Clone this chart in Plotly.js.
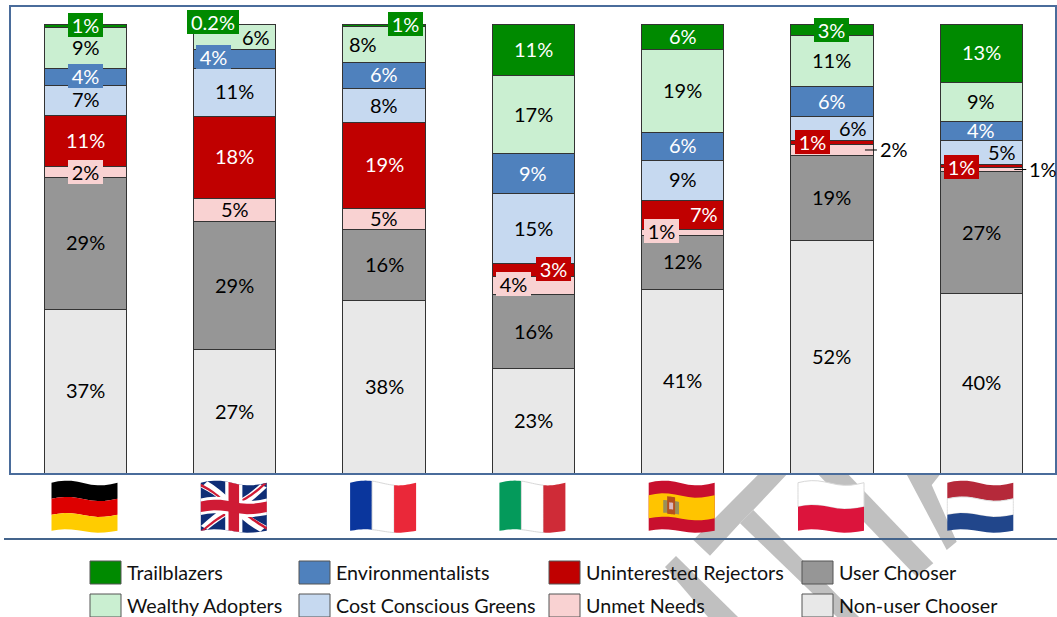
<!DOCTYPE html>
<html>
<head>
<meta charset="utf-8">
<script src="https://cdn.plot.ly/plotly-3.0.1.min.js"></script>
<style>html,body{margin:0;padding:0;background:#fff;overflow:hidden}</style>
</head>
<body>
<div id="chart" style="width:1057px;height:617px"></div>
<script>
// ---------- data (percent of population, top of the stack first in the reference) ----------
const countries = ["Germany","United Kingdom","France","Italy","Spain","Poland","Netherlands"];
const nonUserChooser       = [36.5, 27.4, 38.5, 23.2, 40.8, 51.8, 40.0];
const userChooser          = [29.4, 28.7, 15.8, 16.6, 12.2, 19.0, 27.1];
const unmetNeeds           = [ 2.4,  5.1,  4.7,  4.0,  1.2,  2.3,  1.0];
const uninterestedRejectors= [11.4, 18.3, 19.0,  2.9,  6.6,  0.9,  0.7];
const costConsciousGreens  = [ 6.6, 10.7,  7.7, 15.5,  8.9,  5.5,  5.3];
const environmentalists    = [ 3.8,  4.2,  5.7,  8.9,  6.1,  6.5,  4.3];
const wealthyAdopters      = [ 9.2,  5.4,  8.0, 17.4, 18.5, 11.4,  8.6];
const trailblazers         = [ 0.7,  0.2,  0.6, 11.5,  5.7,  2.6, 13.0];

const lblNon   = ["37%","27%","38%","23%","41%","52%","40%"];
const lblUser  = ["29%","29%","16%","16%","12%","19%","27%"];
const lblUnmet = ["2%","5%","5%","4%","1%","2%","1%"];
const lblRej   = ["11%","18%","19%","3%","7%","1%","1%"];
const lblCost  = ["7%","11%","8%","15%","9%","6%","5%"];
const lblEnv   = ["4%","4%","6%","9%","6%","6%","4%"];
const lblWealth= ["9%","6%","8%","17%","19%","11%","9%"];
const lblTrail = ["1%","0.2%","1%","11%","6%","3%","13%"];

// stack order bottom to top
const series = [
  {name:"Non-user Chooser",      v:nonUserChooser,        l:lblNon,    c:"#E8E8E8", t:"#000000"},
  {name:"User Chooser",          v:userChooser,           l:lblUser,   c:"#969696", t:"#000000"},
  {name:"Unmet Needs",           v:unmetNeeds,            l:lblUnmet,  c:"#F9D2D2", t:"#000000"},
  {name:"Uninterested Rejectors",v:uninterestedRejectors, l:lblRej,    c:"#C00000", t:"#FFFFFF"},
  {name:"Cost Conscious Greens", v:costConsciousGreens,   l:lblCost,   c:"#C6D9F0", t:"#000000"},
  {name:"Environmentalists",     v:environmentalists,     l:lblEnv,    c:"#4F81BD", t:"#FFFFFF"},
  {name:"Wealthy Adopters",      v:wealthyAdopters,       l:lblWealth, c:"#CAEFD1", t:"#000000"},
  {name:"Trailblazers",          v:trailblazers,          l:lblTrail,  c:"#008A00", t:"#FFFFFF"}
];

// label placement tweaks: "seriesIndex,countryIndex" -> [dx px, dy px (up), boxed]
const nudges = {
  "7,0":[0,0,1], "5,0":[0,0,1], "2,0":[0,-1,1],
  "7,1":[-22,2,1], "6,1":[21,-1,0], "5,1":[-21,1,1],
  "7,2":[21,0,1], "6,2":[-21,0,0],
  "3,3":[20,0,1], "2,3":[-20,0,1],
  "3,4":[21,0,0], "2,4":[-21,0,1],
  "7,5":[0,-1,1], "4,5":[21,-1,0], "3,5":[-19,0,1],
  "4,6":[21,-1,0], "3,6":[-20,-2,1]
};
// labels placed outside the bar with a leader line: "seriesIndex,countryIndex" -> label dx
const outside = {"2,5":62, "2,6":62};

// ---------- layout geometry ----------
const W=1057, H=617, mL=11, mR=2, mT=7, mB=144;
const pw=W-mL-mR, ph=H-mT-mB;
const fx=x=>(x-mL)/pw, fy=y=>(H-mB-y)/ph;
const barX=i=>85.5+149.3*i;
const FONT='Lato, Carlito, sans-serif';

const traces = series.map(s=>({
  type:'bar', name:s.name, x:countries, y:s.v, width:0.552,
  marker:{color:s.c, line:{color:'#333333', width:1}},
  hoverinfo:'x+y+name', showlegend:false
}));

const annotations=[], shapes=[];

// watermark pieces (behind everything)
const watermark=[
  [[693.3,540],[710,555.7],[740,523.3],[753.3,510],[786.7,474.5],[758.3,474.5]],
  [[740,523.3],[753.3,510],[859,617],[837,617]],
  [[818.3,474.5],[848.3,474.5],[933.3,563.3],[916.7,576.7]],
  [[906.7,474.5],[940,474.5],[931.7,485],[956.7,541.7],[946.7,550]],
  [[676,556],[738,617],[708,617],[665,567]]
];
const pathOf=pts=>'M'+pts.map(p=>fx(p[0]).toFixed(5)+' '+fy(p[1]).toFixed(5)).join(' L')+' Z';
watermark.forEach(p=>shapes.push({type:'path',xref:'paper',yref:'paper',path:pathOf(p),
  fillcolor:'#C0C0C0',line:{width:0},layer:'below'}));

// separator line
shapes.push({type:'line',xref:'paper',yref:'paper',x0:fx(4),x1:fx(1057),y0:fy(539),y1:fy(539),
  line:{color:'#44648C',width:2},layer:'above'});

// value labels
const cum=countries.map(()=>0);
series.forEach((s,si)=>{
  s.v.forEach((val,ci)=>{
    const mid=cum[ci]+val/2; cum[ci]+=val;
    const key=si+','+ci;
    if(outside[key]!==undefined){
      annotations.push({xref:'x',yref:'y',x:countries[ci],y:mid,text:s.l[ci],showarrow:false,
        xshift:outside[key],yshift:1,font:{family:FONT,size:20,color:'#000'}});
      shapes.push({type:'line',xref:'x',yref:'y',xsizemode:'pixel',xanchor:ci,
        x0:33,x1:45,y0:mid,y1:mid,line:{color:'#000',width:1},layer:'above'});
      return;
    }
    const n=nudges[key]||[0,0,0];
    const a={xref:'x',yref:'y',x:countries[ci],y:mid,text:s.l[ci],showarrow:false,
      xshift:n[0],yshift:n[1]+1,font:{family:FONT,size:20,color:s.t},
      bgcolor:n[2]?s.c:'rgba(0,0,0,0)',borderpad:0,borderwidth:0};
    if(n[2]) a.width=s.l[ci].length*8.5+18;
    annotations.push(a);
  });
});

// legend drawn to match the reference two-row block
const legendRows=[
  ["Trailblazers","Environmentalists","Uninterested Rejectors","User Chooser"],
  ["Wealthy Adopters","Cost Conscious Greens","Unmet Needs","Non-user Chooser"]
];
const legendCols=[90,299,549,802], legendTops=[561,594];
legendRows.forEach((row,r)=>row.forEach((nm,c)=>{
  const s=series.find(q=>q.name===nm), x=legendCols[c], y=legendTops[r];
  shapes.push({type:'rect',xref:'paper',yref:'paper',x0:fx(x),x1:fx(x+31),y0:fy(y),y1:fy(y+23),
    fillcolor:s.c,line:{color:'#555555',width:1},layer:'above'});
  annotations.push({xref:'paper',yref:'paper',x:fx(x+34.5),y:fy(y+11),xanchor:'left',yanchor:'middle',
    text:nm,showarrow:false,font:{family:FONT,size:19.7,color:'#111'}});
}));

// flags: unit-square polygons bent by a small wave
const FW=66, FH=48, FTOP=482;
function wave(cx,u,v){
  const x=cx-FW/2+u*FW;
  const y=FTOP+v*FH-2.4*Math.sin(2*Math.PI*(u+0.02))*(1-0.3*v)+1;
  return [x,y];
}
function flagPoly(cx,pts,fill,border){
  const out=[];
  for(let i=0;i<pts.length;i++){
    const a=pts[i], b=pts[(i+1)%pts.length];
    for(let k=0;k<10;k++){
      const t=k/10;
      out.push(wave(cx,a[0]+(b[0]-a[0])*t,a[1]+(b[1]-a[1])*t));
    }
  }
  shapes.push({type:'path',xref:'paper',yref:'paper',path:pathOf(out),fillcolor:fill,
    line:border?{color:border,width:1}:{width:0},layer:'above'});
}
const rect=(a,b,c,d)=>[[a,b],[c,b],[c,d],[a,d]];
const hStripes=(cx,cols,bord)=>cols.forEach((c,i)=>flagPoly(cx,rect(0,i/cols.length,1,(i+1)/cols.length),c,bord&&c==='#FFFFFF'?bord:null));
const vStripes=(cx,cols,bord)=>cols.forEach((c,i)=>flagPoly(cx,rect(i/cols.length,0,(i+1)/cols.length,1),c,bord&&c==='#FFFFFF'?bord:null));
hStripes(barX(0)-1,['#000000','#DD0000','#FFCC00']);
// UK
(function(cx){
  flagPoly(cx,rect(0,0,1,1),'#0F2E76');
  const e=0.1;
  flagPoly(cx,[[0,e],[e,0],[1,1-e],[1-e,1]],'#FFFFFF');
  flagPoly(cx,[[1-e,0],[1,e],[e,1],[0,1-e]],'#FFFFFF');
  flagPoly(cx,[[0,0.02],[0.33,0.36],[0.28,0.36],[0,0.08]],'#CF1B35');
  flagPoly(cx,[[1,0.02],[0.62,0.36],[0.56,0.36],[0.95,0]],'#CF1B35');
  flagPoly(cx,[[0,1],[0.38,0.64],[0.44,0.64],[0.06,1]],'#CF1B35');
  flagPoly(cx,[[1,0.98],[0.68,0.64],[0.74,0.64],[1,0.92]],'#CF1B35');
  flagPoly(cx,rect(0.37,0,0.63,1),'#FFFFFF');
  flagPoly(cx,rect(0,0.33,1,0.67),'#FFFFFF');
  flagPoly(cx,rect(0.42,0,0.58,1),'#CF1B35');
  flagPoly(cx,rect(0,0.39,1,0.61),'#CF1B35');
})(barX(1)-1);
vStripes(barX(2)-1,['#0A369D','#FFFFFF','#EA2839'],'#D8D8D8');
vStripes(barX(3)-1,['#049A5B','#FFFFFF','#CF2B37'],'#D8D8D8');
// Spain
(function(cx){
  flagPoly(cx,rect(0,0,1,1),'#C8102E');
  flagPoly(cx,rect(0,0.26,1,0.74),'#FFC400');
  flagPoly(cx,rect(0.22,0.40,0.46,0.66),'#9A8F5A');
  flagPoly(cx,rect(0.28,0.32,0.40,0.68),'#B5501E');
  flagPoly(cx,rect(0.31,0.44,0.37,0.58),'#D9B8C0');
})(barX(4)-1);
(function(cx){
  flagPoly(cx,rect(0,0,1,0.5),'#FFFFFF','#D8D8D8');
  flagPoly(cx,rect(0,0.5,1,1),'#DC143C');
})(barX(5)-1);
hStripes(barX(6)-1,['#B5293A','#FFFFFF','#21468B'],'#DDDDDD');

const layout={
  width:W,height:H,autosize:false,barmode:'stack',
  margin:{l:mL,r:mR,t:mT,b:mB,pad:0},
  paper_bgcolor:'#FFFFFF',plot_bgcolor:'#FFFFFF',
  font:{family:FONT,color:'#000'},showlegend:false,
  xaxis:{type:'category',categoryorder:'array',categoryarray:countries,range:[-0.499,6.494],
    showticklabels:false,ticks:'',showgrid:false,zeroline:false,showline:true,mirror:true,
    linecolor:'#4A6C9B',linewidth:1.5,fixedrange:true},
  yaxis:{range:[0,103.8],showticklabels:false,ticks:'',showgrid:false,zeroline:false,showline:true,
    mirror:true,linecolor:'#4A6C9B',linewidth:1.5,fixedrange:true},
  annotations,shapes
};
Plotly.newPlot('chart',traces,layout,{displayModeBar:false,responsive:false});
</script>
</body>
</html>
